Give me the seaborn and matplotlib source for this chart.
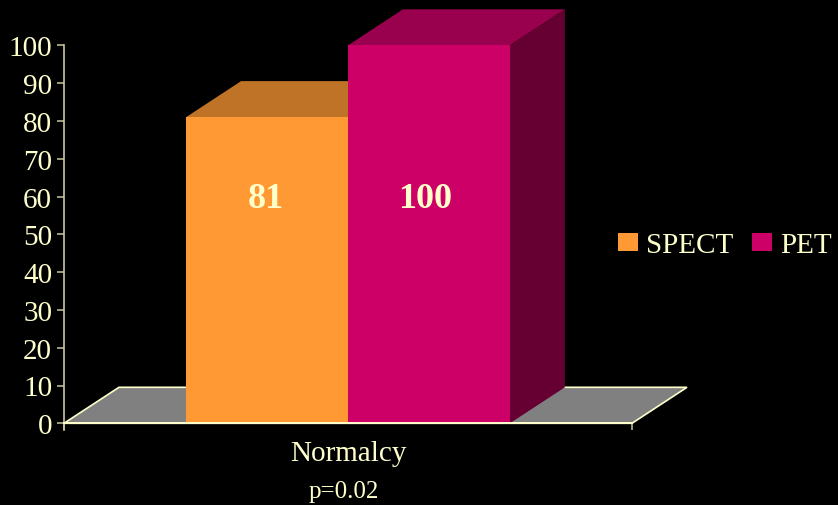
import matplotlib
matplotlib.use("Agg")
import matplotlib.pyplot as plt
from matplotlib.patches import Polygon
import pandas as pd
import seaborn as sns

# Values shown on the chart
categories = ["Normalcy"]
methods = ["SPECT", "PET"]
scores = [81, 100]
y_ticks = list(range(0, 101, 10))
p_note = "p=0.02"

# Palette
CREAM = "#FFFFCC"
AXIS = "#C8C8A0"
FLOOR = "#808080"
front_colors = {"SPECT": "#FF9933", "PET": "#CC0066"}
top_colors = {"SPECT": "#BF7326", "PET": "#99004D"}
side_colors = {"SPECT": "#BF7326", "PET": "#660033"}

sns.set_theme(style="ticks", rc={
    "figure.facecolor": "black",
    "axes.facecolor": "none",
    "savefig.facecolor": "black",
})
plt.rcParams["font.family"] = ["Liberation Serif", "DejaVu Serif"]

W, H = 838, 506
fig = plt.figure(figsize=(W / 100, H / 100), dpi=100)
ax = fig.add_axes([64 / W, 1 - 424.3 / H, 568 / W, 378 / H])

df = pd.DataFrame({
    "category": categories * len(methods),
    "method": methods,
    "score": scores,
})
sns.barplot(
    data=df, x="category", y="score", hue="method", hue_order=methods,
    palette=front_colors, width=0.57, saturation=1, linewidth=0, zorder=3, ax=ax,
)

ax.set_xlim(-0.5, 0.5)
ax.set_ylim(0, 100)

# Oblique depth of the pseudo-3D projection, in data units
depth_x = 55 / 568
depth_y = 36 / 3.78

# Floor plane
x0, x1 = ax.get_xlim()
ax.add_patch(Polygon(
    [(x0, 0), (x0 + depth_x, depth_y), (x1 + depth_x, depth_y), (x1, 0)],
    closed=True, facecolor=FLOOR, edgecolor=CREAM, linewidth=1.2,
    clip_on=False, zorder=0.5,
))

# Top and side faces of each bar, taken from the drawn bars
bars = [c[0] for c in ax.containers]
for method, bar, order in zip(methods, bars, (1.0, 2.0)):
    left = bar.get_x()
    right = left + bar.get_width()
    top = bar.get_height()
    ax.add_patch(Polygon(
        [(left, top), (left + depth_x, top + depth_y),
         (right + depth_x, top + depth_y), (right, top)],
        closed=True, facecolor=top_colors[method], edgecolor="none",
        clip_on=False, zorder=order,
    ))
    ax.add_patch(Polygon(
        [(right, 0), (right + depth_x, depth_y),
         (right + depth_x, top + depth_y), (right, top)],
        closed=True, facecolor=side_colors[method], edgecolor="none",
        clip_on=False, zorder=order,
    ))

# Value labels, set at a common height inside the bars
for bar, value, nudge in zip(bars, scores, (-1.5, -3.5)):
    ax.annotate(str(value), (bar.get_x() + bar.get_width() / 2, 59.6),
                xytext=(nudge * 0.72, 0), textcoords="offset points",
                ha="center", va="center", color=CREAM, fontsize=26,
                fontweight="bold", zorder=4)

# Axes styling
for name in ("top", "right"):
    ax.spines[name].set_visible(False)
ax.spines["left"].set_color(AXIS)
ax.spines["left"].set_linewidth(1.2)
ax.spines["left"].set_bounds(-1.9, 100)
ax.spines["bottom"].set_color(CREAM)
ax.spines["bottom"].set_linewidth(1.4)
ax.spines["bottom"].set_zorder(5)

ax.set_yticks(y_ticks)
ax.tick_params(axis="y", colors=CREAM, length=5, width=1.1, pad=3.5, labelsize=21,
               color=AXIS)
ax.set_xticks([x0, x1], minor=True)
ax.tick_params(axis="x", which="minor", length=5, width=1.1, color=AXIS)
ax.tick_params(axis="x", which="major", length=0, pad=12, labelsize=21, labelcolor=CREAM)
ax.set_ylabel("")
ax.set_xlabel(p_note, color=CREAM, fontsize=18, labelpad=10, x=0.492)

# Legend to the right of the plot
handles, labels = ax.get_legend_handles_labels()
ax.legend(
    handles, labels, ncol=2, frameon=False, fontsize=21,
    labelcolor=CREAM, handlelength=0.686, handleheight=0.583,
    handletextpad=0.274, columnspacing=0.65, borderpad=0, borderaxespad=0,
    loc="center left", bbox_to_anchor=(618 / W, 1 - 246.5 / H),
    bbox_transform=fig.transFigure,
)

fig.savefig("out.png", dpi=100)
